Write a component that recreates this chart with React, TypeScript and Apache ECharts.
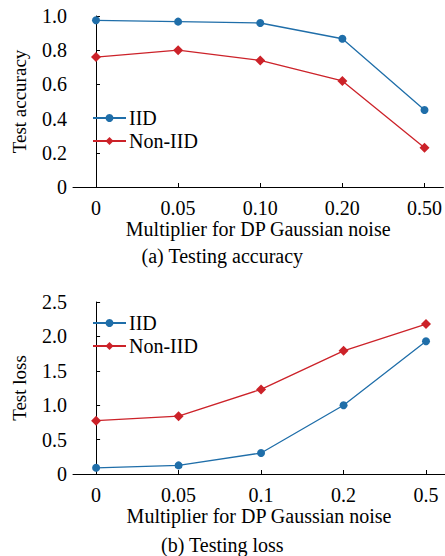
import React, { useEffect, useRef } from "react";
import * as echarts from "echarts";

const xIdx = [0, 1, 2, 3, 4];
const xLabelsAcc = ["0", "0.05", "0.10", "0.20", "0.50"];
const xLabelsLoss = ["0", "0.05", "0.1", "0.2", "0.5"];
const accIID = [0.975, 0.967, 0.959, 0.867, 0.45];
const accNonIID = [0.76, 0.8, 0.74, 0.62, 0.23];
const lossIID = [0.09, 0.125, 0.305, 1.0, 1.93];
const lossNonIID = [0.775, 0.84, 1.23, 1.79, 2.18];

const FONT = "Liberation Serif";
const BLUE = "#1f6ea9";
const RED = "#cc2229";

export default function App() {
  const ref = useRef<HTMLDivElement>(null);
  useEffect(() => {
    if (!ref.current) return;
    const chart = echarts.init(ref.current, null, { renderer: "svg" });
    const txt = { fontFamily: FONT, fontSize: 20, color: "#000" };
    const mkX = (gridIndex: number, labels: string[]) => ({
      type: "value",
      gridIndex,
      min: -0.28,
      max: 4.23,
      name: "Multiplier for DP Gaussian noise",
      nameLocation: "middle",
      nameGap: 31,
      nameTextStyle: { ...txt },
      axisLine: { show: true, lineStyle: { color: "#000", width: 1 } },
      axisTick: { show: true, inside: true, length: 4, customValues: xIdx, lineStyle: { color: "#000" } },
      axisLabel: {
        ...txt,
        margin: 11,
        customValues: xIdx,
        formatter: (v: number) => labels[Math.round(v)] ?? "",
      },
      splitLine: { show: false },
    });
    const mkY = (gridIndex: number, name: string, max: number, interval: number) => ({
      type: "value",
      gridIndex,
      min: 0,
      max,
      interval,
      name,
      nameLocation: "middle",
      nameGap: 44,
      nameTextStyle: { ...txt, fontSize: 19 },
      axisLine: { show: true, lineStyle: { color: "#000", width: 1 } },
      axisTick: { show: true, inside: true, length: 4, lineStyle: { color: "#000" } },
      axisLabel: {
        ...txt,
        margin: 6,
        formatter: (v: number) => (v === 0 ? "0" : v.toFixed(1)),
      },
      splitLine: { show: false },
    });
    const mkSeries = (name: string, data: number[], gi: number, color: string, symbol: string, size: number) => ({
      name,
      type: "line",
      xAxisIndex: gi,
      yAxisIndex: gi,
      data: data.map((v, i) => [xIdx[i], v]),
      symbol,
      symbolSize: size,
      showSymbol: true,
      lineStyle: { color, width: 1.3 },
      itemStyle: { color },
    });
    const legendBase = {
      orient: "vertical",
      left: 92,
      padding: 0,
      itemWidth: 33,
      itemHeight: 10,
      itemGap: 3,
      textStyle: { ...txt, padding: [0, 0, 0, -2] },
      data: ["IID", "Non-IID"],
    };
    chart.setOption({
      animation: false,
      backgroundColor: "#fff",
      grid: [
        { left: 73, top: 16, width: 372, height: 171 },
        { left: 73, top: 302, width: 372, height: 172 },
      ],
      xAxis: [mkX(0, xLabelsAcc), mkX(1, xLabelsLoss)],
      yAxis: [mkY(0, "Test accuracy", 1, 0.2), mkY(1, "Test loss", 2.5, 0.5)],
      legend: [
        { ...legendBase, top: 108 },
        { ...legendBase, top: 313 },
      ],
      series: [
        mkSeries("IID", accIID, 0, BLUE, "circle", 8),
        mkSeries("Non-IID", accNonIID, 0, RED, "diamond", 10),
        mkSeries("IID", lossIID, 1, BLUE, "circle", 8),
        mkSeries("Non-IID", lossNonIID, 1, RED, "diamond", 10),
      ],
      graphic: [
        {
          type: "text",
          left: "center",
          top: 246,
          style: { text: "(a) Testing accuracy", font: `20px ${FONT}`, fill: "#000" },
        },
        {
          type: "text",
          left: "center",
          top: 535,
          style: { text: "(b) Testing loss", font: `20px ${FONT}`, fill: "#000" },
        },
      ],
    });
    return () => chart.dispose();
  }, []);
  return (
    <div
      ref={ref}
      style={{ position: "fixed", left: 0, top: 0, width: 445, height: 556, background: "#fff" }}
    />
  );
}
